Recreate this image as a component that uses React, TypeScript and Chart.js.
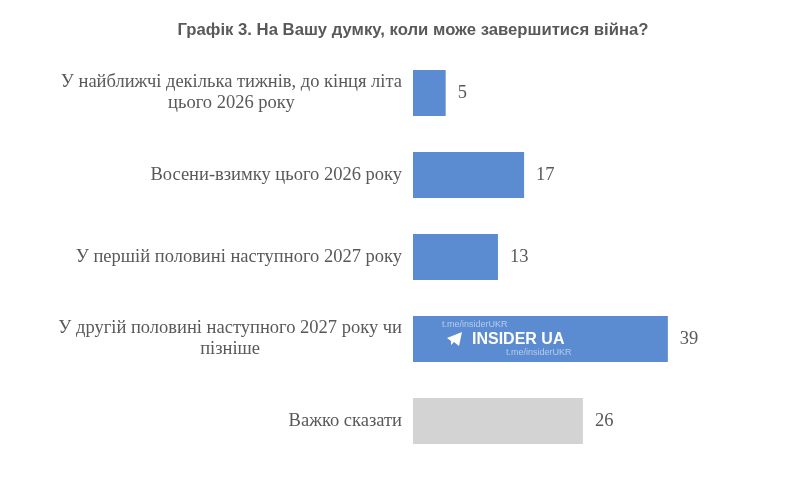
import React, { useEffect, useRef } from 'react';
import { Chart, registerables } from 'chart.js';

Chart.register(...registerables);

// Chart data
const titleText = 'Графік 3. На Вашу думку, коли може завершитися війна?';
const categories: string[][] = [
    ['У найближчі декілька тижнів, до кінця літа', 'цього 2026 року'],
    ['Восени-взимку цього 2026 року'],
    ['У першій половині наступного 2027 року'],
    ['У другій половині наступного 2027 року чи', 'пізніше'],
    ['Важко сказати'],
];
const values = [5, 17, 13, 39, 26];
const barColors = ['#5b8bd1', '#5b8bd1', '#5b8bd1', '#5b8bd1', '#d3d3d3'];
const watermarkText = 'INSIDER UA';
const watermarkLink = 't.me/insiderUKR';

const TEXT_COLOR = '#595959';
const SERIF = '18.5px "Liberation Serif", "Times New Roman", serif';

// draws the category labels (right aligned block, lines centered) and the values
const labelsPlugin = {
    id: 'barLabels',
    afterDatasetsDraw(chart: any) {
        const ctx = chart.ctx;
        const yScale = chart.scales.y;
        const meta = chart.getDatasetMeta(0);
        const rightEdge = chart.chartArea.left - 11;
        ctx.save();
        ctx.font = SERIF;
        ctx.fillStyle = TEXT_COLOR;
        ctx.textBaseline = 'middle';

        categories.forEach((lines, i) => {
            const y = yScale.getPixelForTick(i);
            const widest = Math.max(...lines.map((l) => ctx.measureText(l).width));
            const cx = rightEdge - widest / 2;
            const lineH = 21;
            const startY = y - ((lines.length - 1) * lineH) / 2;
            ctx.textAlign = 'center';
            lines.forEach((l, j) => ctx.fillText(l, cx, startY + j * lineH));
        });

        ctx.textAlign = 'left';
        meta.data.forEach((bar: any, i: number) => {
            ctx.fillText(String(values[i]), bar.x + 12, bar.y);
        });

        // watermark over the longest bar
        const big = meta.data[3];
        if (big) {
            const bx = big.base;
            const by = big.y;
            ctx.fillStyle = '#ffffff';
            ctx.beginPath();
            ctx.moveTo(bx + 34, by - 1);
            ctx.lineTo(bx + 49, by - 7);
            ctx.lineTo(bx + 46, by + 7);
            ctx.lineTo(bx + 41, by + 3);
            ctx.lineTo(bx + 38, by + 6);
            ctx.lineTo(bx + 38, by + 2);
            ctx.closePath();
            ctx.fill();
            ctx.font = 'bold 16px "Liberation Sans", Arial, sans-serif';
            ctx.fillText(watermarkText, bx + 59, by + 1);
            ctx.fillStyle = 'rgba(255,255,255,0.55)';
            ctx.font = '9px "Liberation Sans", Arial, sans-serif';
            ctx.fillText(watermarkLink, bx + 29, by - 14);
            ctx.fillText(watermarkLink, bx + 93, by + 14);
        }
        ctx.restore();
    },
};

const App: React.FC = () => {
    const chartRef = useRef<HTMLCanvasElement>(null);

    useEffect(() => {
        if (!chartRef.current) return;
        const chart = new Chart(chartRef.current, {
            type: 'bar',
            data: {
                labels: categories,
                datasets: [{
                    data: values,
                    backgroundColor: barColors,
                    barPercentage: 0.56,
                    categoryPercentage: 1,
                }],
            },
            options: {
                indexAxis: 'y',
                animation: false,
                responsive: true,
                maintainAspectRatio: false,
                layout: { padding: { left: 26, right: 0, top: 0, bottom: 7 } },
                plugins: {
                    legend: { display: false },
                    tooltip: { enabled: false },
                    title: {
                        display: true,
                        text: titleText,
                        color: TEXT_COLOR,
                        font: { family: '"Liberation Sans", Arial, sans-serif', size: 16.7, weight: 'bold' },
                        padding: { top: 12, bottom: 12 },
                    },
                },
                scales: {
                    x: {
                        display: false,
                        min: 0,
                        max: 58,
                        grid: { display: false },
                    },
                    y: {
                        grid: { display: false },
                        border: { display: false },
                        ticks: { display: false },
                        afterFit: (scale: any) => {
                            scale.width = 379;
                        },
                    },
                },
            },
            plugins: [labelsPlugin],
        });

        return () => {
            chart.destroy();
        };
    }, []);

    return (
        <div style={{ position: 'relative', width: '784px', height: '461px' }}>
            <canvas ref={chartRef} />
        </div>
    );
};

export default App;
